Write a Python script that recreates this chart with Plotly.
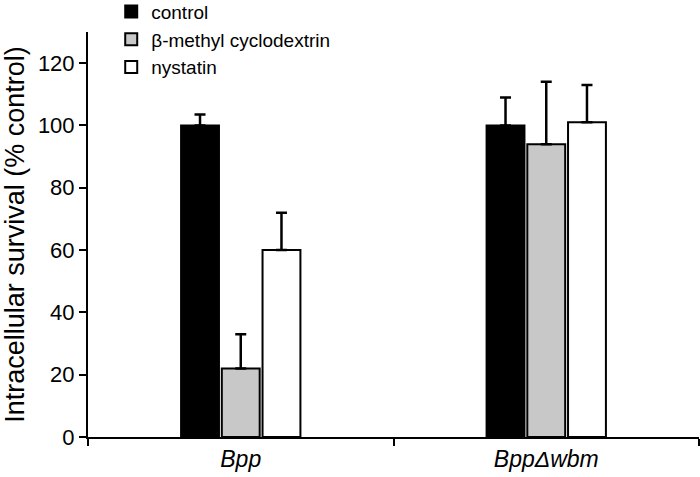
import plotly.graph_objects as go

categories = ["<i>Bpp</i>", "<i>Bpp\u0394wbm</i>"]
series_names = ["control", "\u03b2-methyl cyclodextrin", "nystatin"]
control = [100, 100]
control_err = [3.5, 9]
mcd = [22, 94]
mcd_err = [11, 20]
nystatin = [60, 101]
nystatin_err = [12, 12]
y_ticks = [0, 20, 40, 60, 80, 100, 120]

colors = ["#000000", "#c8c8c8", "#ffffff"]
values = [control, mcd, nystatin]
errors = [control_err, mcd_err, nystatin_err]

fig = go.Figure()
for name, vals, errs, col in zip(series_names, values, errors, colors):
    fig.add_trace(go.Bar(
        x=categories, y=vals, name=name,
        marker=dict(color=col, line=dict(color="black", width=2)),
        error_y=dict(type="data", array=errs, arrayminus=[0] * len(errs),
                     symmetric=False, color="black", thickness=2.5, width=5.5),
    ))

fig.update_layout(
    width=700, height=477,
    margin=dict(l=88, r=1, t=32, b=40, autoexpand=False),
    plot_bgcolor="white", paper_bgcolor="white",
    barmode="group", bargap=0.6, bargroupgap=0.07,
    font=dict(family="Liberation Sans, Arial, sans-serif", color="black"),
    showlegend=True,
    legend=dict(x=0.038, y=1.097, xanchor="left", yanchor="top",
                font=dict(size=19), bgcolor="rgba(0,0,0,0)",
                tracegroupgap=0, itemwidth=30),
    xaxis=dict(showline=True, linecolor="black", linewidth=2, automargin=False,
               ticks="outside", tickson="boundaries", ticklen=7, tickwidth=2,
               tickcolor="black", tickfont=dict(size=23), range=[-0.5, 1.5]),
    yaxis=dict(showline=True, linecolor="black", linewidth=2, range=[0, 130],
               automargin=False,
               tickvals=y_ticks, ticks="outside", ticklen=7, tickwidth=2,
               tickcolor="black", tickfont=dict(size=22), showgrid=False,
               zeroline=False,
               title=dict(text="Intracellular survival (% control)",
                          font=dict(size=27), standoff=6)),
)

fig.write_html("out.html", config={"displayModeBar": False},
               post_script="document.body.style.margin='0';")
